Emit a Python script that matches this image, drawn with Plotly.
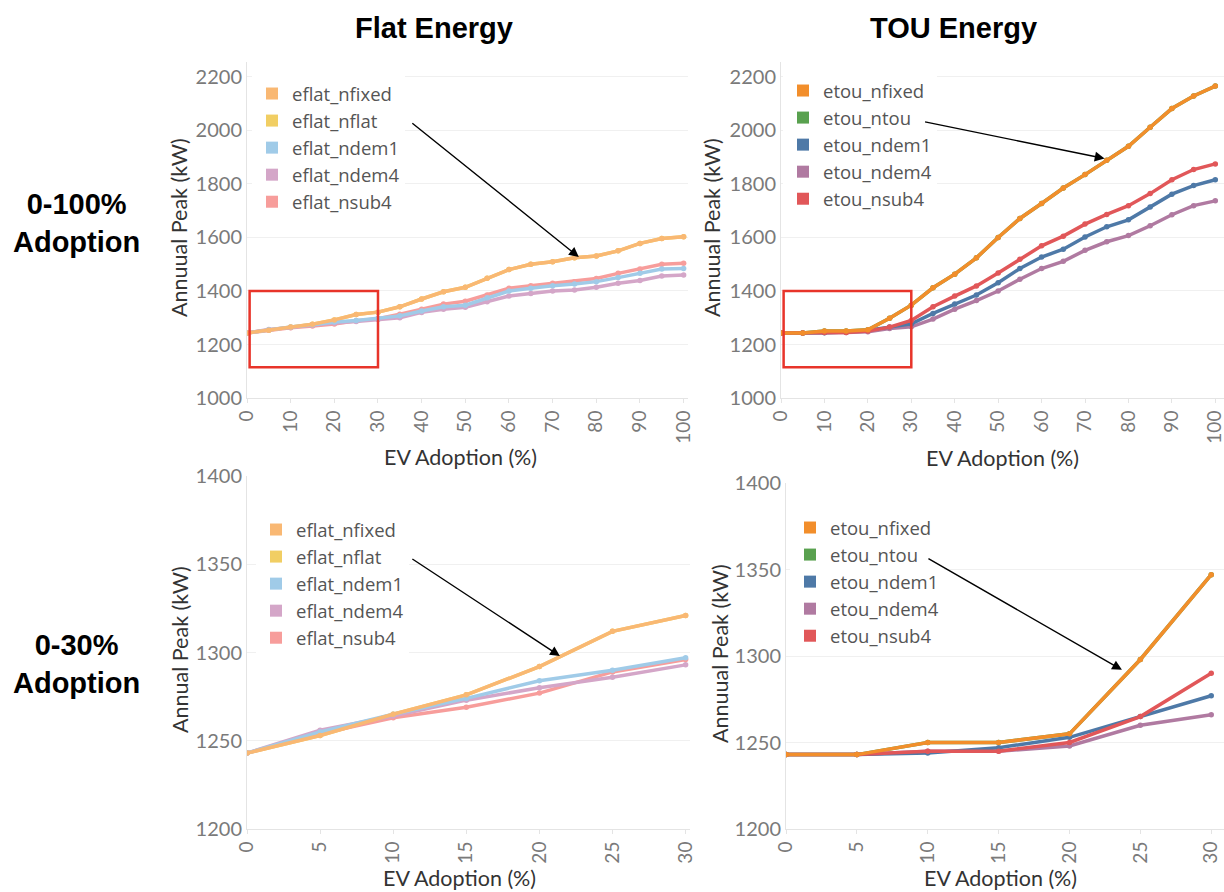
import plotly.graph_objects as go

W, H = 1224, 892

# ---------------- data ----------------
adoption = [0, 5, 10, 15, 20, 25, 30, 35, 40, 45, 50, 55, 60, 65, 70, 75, 80, 85, 90, 95, 100]
n_zoom = 7  # 0-30 % subset points

flat_names = ["eflat_nfixed", "eflat_nflat", "eflat_ndem1", "eflat_ndem4", "eflat_nsub4"]
eflat_nfixed = [1243, 1253, 1265, 1276, 1292, 1312, 1321, 1341, 1370, 1397, 1414, 1448, 1480, 1500, 1509, 1524, 1531, 1550, 1578, 1596, 1603]
eflat_nflat = [1243, 1253, 1265, 1276, 1292, 1312, 1321, 1341, 1370, 1397, 1414, 1448, 1480, 1500, 1509, 1524, 1531, 1550, 1578, 1596, 1603]
eflat_ndem1 = [1243, 1255, 1265, 1274, 1284, 1290, 1297, 1307, 1325, 1341, 1347, 1375, 1400, 1410, 1420, 1426, 1435, 1450, 1466, 1482, 1484]
eflat_ndem4 = [1243, 1256, 1264, 1273, 1280, 1286, 1293, 1300, 1320, 1332, 1339, 1360, 1381, 1391, 1400, 1404, 1414, 1429, 1439, 1456, 1460]
eflat_nsub4 = [1243, 1254, 1263, 1269, 1277, 1289, 1296, 1313, 1332, 1351, 1362, 1385, 1410, 1420, 1429, 1435, 1447, 1466, 1482, 1500, 1504]

tou_names = ["etou_nfixed", "etou_ntou", "etou_ndem1", "etou_ndem4", "etou_nsub4"]
etou_nfixed = [1243, 1243, 1250, 1250, 1255, 1298, 1347, 1412, 1463, 1524, 1600, 1671, 1727, 1785, 1835, 1889, 1941, 2012, 2082, 2129, 2166]
etou_ntou = [1243, 1243, 1250, 1250, 1255, 1298, 1347, 1412, 1463, 1524, 1600, 1671, 1727, 1785, 1835, 1889, 1941, 2012, 2082, 2129, 2166]
etou_ndem1 = [1243, 1243, 1244, 1247, 1253, 1265, 1277, 1316, 1351, 1385, 1431, 1484, 1527, 1556, 1602, 1640, 1666, 1714, 1762, 1794, 1816]
etou_ndem4 = [1243, 1243, 1245, 1245, 1248, 1260, 1266, 1295, 1332, 1364, 1400, 1444, 1484, 1511, 1552, 1584, 1607, 1644, 1685, 1719, 1737]
etou_nsub4 = [1243, 1243, 1245, 1245, 1250, 1265, 1290, 1341, 1381, 1419, 1467, 1519, 1569, 1605, 1650, 1686, 1719, 1764, 1816, 1854, 1875]

flat_series = [eflat_nfixed, eflat_nflat, eflat_ndem1, eflat_ndem4, eflat_nsub4]
tou_series = [etou_nfixed, etou_ntou, etou_ndem1, etou_ndem4, etou_nsub4]

flat_colors = ["#f9b873", "#f1ce63", "#a0cbe8", "#d4a6c8", "#f79d9b"]
tou_colors = ["#f28e2b", "#59a14f", "#4e79a7", "#b07aa1", "#e15759"]

# drawing order (index into series); first drawn = lowest
flat_order = [1, 4, 3, 2, 0]
tou_order = [1, 3, 2, 4, 0]

col_titles = ["Flat Energy", "TOU Energy"]
row_titles = ["0-100%<br>Adoption", "0-30%<br>Adoption"]
x_title = "EV Adoption (%)"
y_titles = ["Annuual Peak (kW)", "Annuual Peak (kW)", "Annual Peak (kW)", "Annuual Peak (kW)"]


def px(x):
    return x / W


def py(y):
    return 1 - y / H


TICK_FONT = dict(family="Lato", size=19, color="#7a7a7a")
YTICK_FONT = dict(family="Lato", size=20, color="#7a7a7a")
LEG_FONT = dict(family="Open Sans", size=18.5, color="#555555")
AX_FONT = dict(family="Lato", size=21.5, color="#333333")

fig = go.Figure()

# panels: (axis suffix, series, colors, order, names, legend, n points)
panels = [
    ("", flat_series, flat_colors, flat_order, flat_names, "legend", len(adoption)),
    ("2", tou_series, tou_colors, tou_order, tou_names, "legend2", len(adoption)),
    ("3", flat_series, flat_colors, flat_order, flat_names, "legend3", n_zoom),
    ("4", tou_series, tou_colors, tou_order, tou_names, "legend4", n_zoom),
]

for suf, series, colors, order, names, leg, n in panels:
    for i in order:
        fig.add_trace(go.Scatter(
            x=adoption[:n], y=series[i][:n], mode="lines+markers",
            line=dict(color=colors[i], width=3.5),
            marker=dict(color=colors[i], size=5.5),
            name=names[i], showlegend=False,
            xaxis="x" + suf, yaxis="y" + suf,
        ))
    # legend swatches (square symbols like the original)
    for i in range(len(names)):
        fig.add_trace(go.Scatter(
            x=[None], y=[None], mode="markers",
            marker=dict(color=colors[i], size=13, symbol="square"),
            name=names[i], legend=leg, showlegend=True,
            xaxis="x" + suf, yaxis="y" + suf,
        ))


def xax(dom, rng, dtick, anchor):
    return dict(domain=[px(dom[0]), px(dom[1])], range=rng, dtick=dtick, tick0=0,
                tickangle=-90, showgrid=False, zeroline=False, showline=True,
                linecolor="#e4e4e4", linewidth=1, ticks="outside", ticklen=4,
                tickcolor="#e4e4e4", tickfont=TICK_FONT, automargin=False,
                ticklabeloverflow="allow", anchor=anchor, fixedrange=True)


def yax(dom, rng, dtick, anchor):
    return dict(domain=[py(dom[1]), py(dom[0])], range=rng, dtick=dtick, tick0=0,
                showgrid=True, gridcolor="#f0f0f0", gridwidth=1, zeroline=False,
                showline=True, linecolor="#e4e4e4", linewidth=1, ticks="",
                tickfont=YTICK_FONT, automargin=False, anchor=anchor, fixedrange=True)


layout = dict(
    width=W, height=H, autosize=False,
    margin=dict(l=0, r=0, t=0, b=0, pad=0),
    paper_bgcolor="white", plot_bgcolor="white",
    font=dict(family="Lato", color="#333333"),
    xaxis=xax((247, 688), [0, 101], 10, "y"),
    yaxis=yax((62, 398), [1000, 2256], 200, "x"),
    xaxis2=xax((781, 1224), [0, 102], 10, "y2"),
    yaxis2=yax((62, 398), [1000, 2256], 200, "x2"),
    xaxis3=xax((247, 690), [0, 30.3], 5, "y3"),
    yaxis3=yax((476, 829), [1200, 1400], 50, "x3"),
    xaxis4=xax((786, 1224), [0, 30.9], 5, "y4"),
    yaxis4=yax((483, 829), [1200, 1400], 50, "x4"),
)


def leg(x, y):
    return dict(x=px(x), y=py(y), xanchor="left", yanchor="top", bgcolor="white",
                borderwidth=0, font=LEG_FONT, itemsizing="constant",
                itemclick=False, itemdoubleclick=False, tracegroupgap=0)


layout["legend"] = leg(252, 75)
layout["legend2"] = leg(783, 72)
layout["legend3"] = leg(256, 511)
layout["legend4"] = leg(790, 509)

fig.update_layout(**layout)

ann = []
# column titles
for txt, cx in zip(col_titles, [434, 953]):
    ann.append(dict(text="<b>%s</b>" % txt, x=px(cx), y=py(28), xref="paper", yref="paper",
                    showarrow=False, xanchor="center", yanchor="middle",
                    font=dict(family="Liberation Sans", size=29, color="#000000")))
# row titles
for txt, cy in zip(row_titles, [223, 664]):
    ann.append(dict(text="<b>%s</b>" % txt, x=px(76), y=py(cy), xref="paper", yref="paper",
                    showarrow=False, xanchor="center", yanchor="middle", align="center",
                    font=dict(family="Liberation Sans", size=29, color="#000000")))
# axis titles
for (cx, cy) in [(460, 457), (1002, 458), (459, 878), (1000, 878)]:
    ann.append(dict(text=x_title, x=px(cx), y=py(cy), xref="paper", yref="paper",
                    showarrow=False, xanchor="center", yanchor="middle", font=AX_FONT))
for txt, (cx, cy) in zip(y_titles, [(179, 228), (712, 228), (180, 650), (720, 654)]):
    ann.append(dict(text=txt, x=px(cx), y=py(cy), xref="paper", yref="paper",
                    showarrow=False, xanchor="center", yanchor="middle", textangle=-90,
                    font=AX_FONT))

# arrows from legend entries to the overlapping line
arrows = [("x", "y", 76, 1527, -168, -135),
          ("x2", "y2", 74.5, 1895, -181, -37),
          ("x3", "y3", 21.4, 1298, -149, -98),
          ("x4", "y4", 23.7, 1292, -195, -112)]
for xr, yr, x, y, ax, ay in arrows:
    ann.append(dict(text="", x=x, y=y, xref=xr, yref=yr, ax=ax, ay=ay,
                    showarrow=True, arrowhead=2, arrowsize=1.4, arrowwidth=1.4,
                    arrowcolor="#000000"))
fig.update_layout(annotations=ann)

# red highlight boxes for the 0-30 % region
shapes = []
for xr, yr in [("x", "y"), ("x2", "y2")]:
    shapes.append(dict(type="rect", xref=xr, yref=yr, x0=0.6, x1=30, y0=1115, y1=1400,
                       line=dict(color="#e8342a", width=2.5), fillcolor="rgba(0,0,0,0)",
                       layer="above"))
fig.update_layout(shapes=shapes)

fig.write_html("out.html")
